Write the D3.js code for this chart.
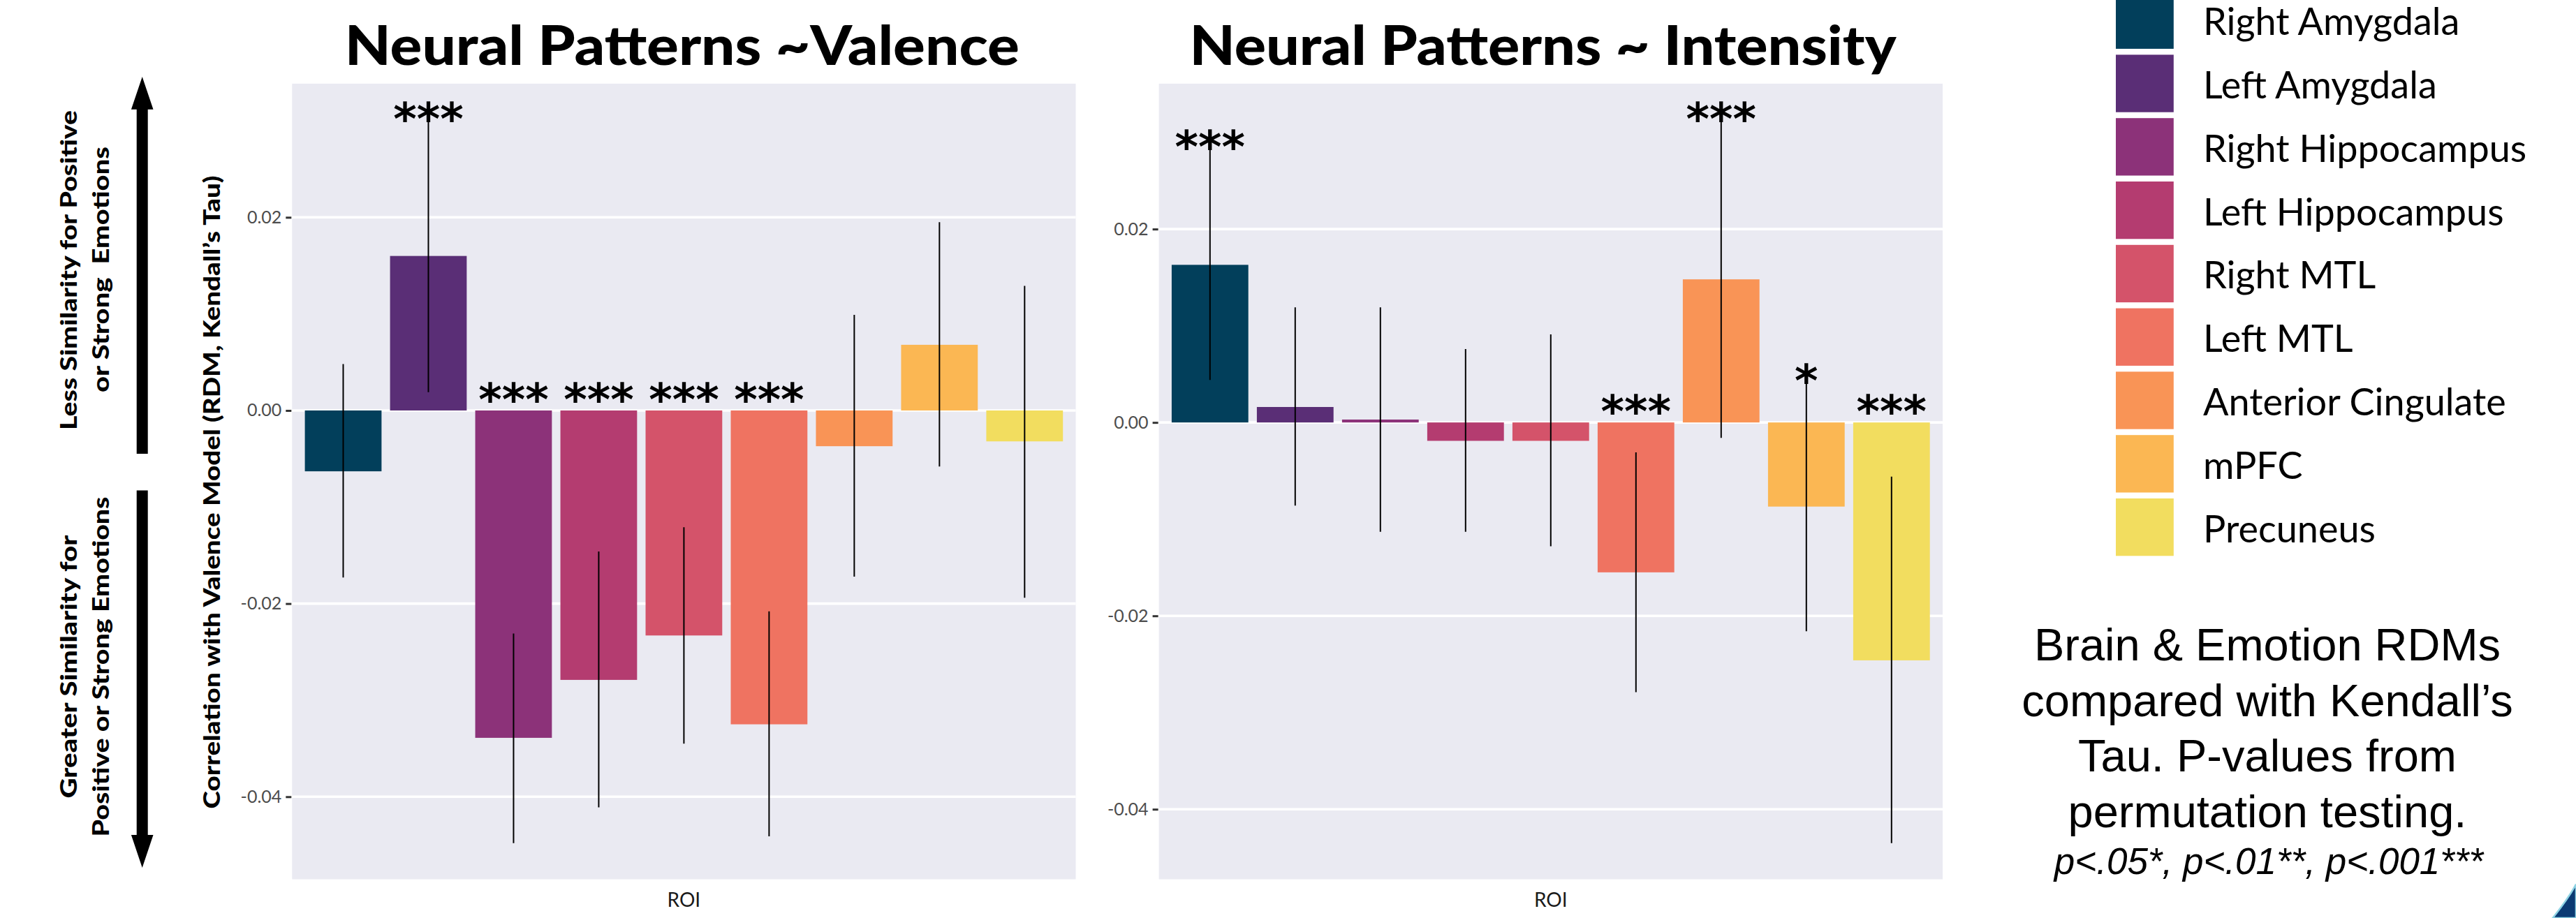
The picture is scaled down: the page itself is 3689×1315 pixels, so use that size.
<!DOCTYPE html>
<html>
<head>
<meta charset="utf-8">
<script src="https://cdn.jsdelivr.net/npm/d3@7"></script>
<style>
  html, body { margin: 0; padding: 0; background: #ffffff; }
  svg { display: block; }
</style>
</head>
<body>
<script>
// ---------------- DATA ----------------
const rois = ["Right Amygdala", "Left Amygdala", "Right Hippocampus", "Left Hippocampus",
              "Right MTL", "Left MTL", "Anterior Cingulate", "mPFC", "Precuneus"];
const roiColors = ["#023F5B", "#5A2E76", "#8C3279", "#B43C70", "#D4536A",
                   "#EF7361", "#F99456", "#FBB753", "#F2DD5F"];

const valenceTau   = [-0.0063, 0.0160, -0.0339, -0.0279, -0.0233, -0.0325, -0.0037, 0.0068, -0.0032];
const valenceLower = [-0.0173, 0.0019, -0.0448, -0.0411, -0.0345, -0.0441, -0.0172, -0.0058, -0.0194];
const valenceUpper = [ 0.0048, 0.0301, -0.0231, -0.0146, -0.0121, -0.0208,  0.0099,  0.0195,  0.0129];
const valenceSig   = ["", "***", "***", "***", "***", "***", "", "", ""];

const intensityTau   = [0.0163, 0.0016, 0.0003, -0.0019, -0.0019, -0.0155, 0.0148, -0.0087, -0.0246];
const intensityLower = [0.0044, -0.0086, -0.0113, -0.0113, -0.0128, -0.0279, -0.0016, -0.0216, -0.0435];
const intensityUpper = [0.0284, 0.0119, 0.0119, 0.0076, 0.0091, -0.0031, 0.0313, 0.0042, -0.0056];
const intensitySig   = ["***", "", "", "", "", "***", "***", "*", "***"];

const yTicks = [-0.04, -0.02, 0.00, 0.02];
const yTickLabels = ["-0.04", "-0.02", "0.00", "0.02"];

const panelTitles = ["Neural Patterns ~Valence", "Neural Patterns ~ Intensity"];
const xAxisTitle = "ROI";
const yAxisTitle = "Correlation with Valence Model (RDM, Kendall\u2019s Tau)";
const upperNote = ["Less Similarity for Positive", "or Strong  Emotions"];
const lowerNote = ["Greater Similarity for", "Positive or Strong Emotions"];
const noteLines = ["Brain & Emotion RDMs", "compared with Kendall\u2019s", "Tau. P-values from", "permutation testing."];
const sigNote = "p<.05*, p<.01**, p<.001***";

// ---------------- LAYOUT ----------------
const W = 3689, H = 1315;
const svg = d3.select("body").append("svg").attr("width", W).attr("height", H)
  .style("background", "#ffffff");

const PANEL_TOP = 119.8, PANEL_BOTTOM = 1259.5;
const GILL = "Lato, 'Noto Sans', sans-serif";

function drawPanel(opts) {
  const { left, right, tau, lower, upper, sig, title, titleX, titleW } = opts;
  const g = svg.append("g");
  const lo = d3.min([...tau, ...lower, ...upper, 0]);
  const hi = d3.max([...tau, ...lower, ...upper, 0]);
  const pad = (hi - lo) * 0.05;
  const y = d3.scaleLinear().domain([lo - pad, hi + pad]).range([PANEL_BOTTOM, PANEL_TOP]);
  const x = d3.scaleBand().domain(rois).range([left, right]).paddingInner(0.1).paddingOuter(0.15);

  // panel background
  g.append("rect").attr("x", left).attr("y", PANEL_TOP)
    .attr("width", right - left).attr("height", PANEL_BOTTOM - PANEL_TOP)
    .attr("fill", "#EAEAF2");

  // gridlines
  g.selectAll("line.grid").data(yTicks).join("line")
    .attr("x1", left).attr("x2", right)
    .attr("y1", d => y(d)).attr("y2", d => y(d))
    .attr("stroke", "#ffffff").attr("stroke-width", 3.6);

  // bars
  g.selectAll("rect.bar").data(rois).join("rect")
    .attr("x", d => x(d)).attr("width", x.bandwidth())
    .attr("y", (d, i) => y(Math.max(0, tau[i])))
    .attr("height", (d, i) => Math.abs(y(tau[i]) - y(0)))
    .attr("fill", (d, i) => roiColors[i]);

  // error bars
  g.selectAll("line.err").data(rois).join("line")
    .attr("x1", d => x(d) + x.bandwidth() / 2).attr("x2", d => x(d) + x.bandwidth() / 2)
    .attr("y1", (d, i) => y(lower[i])).attr("y2", (d, i) => y(upper[i]))
    .attr("stroke", "#000").attr("stroke-width", 2);

  // significance stars
  g.selectAll("text.sig").data(rois).join("text")
    .attr("x", d => x(d) + x.bandwidth() / 2)
    .attr("y", (d, i) => y(Math.max(upper[i], 0.001)) + 21)
    .attr("text-anchor", "middle")
    .attr("font-family", "'DejaVu Sans', sans-serif")
    .attr("font-weight", "bold")
    .attr("font-size", 64)
    .attr("fill", "#000")
    .text((d, i) => sig[i]);

  // y axis
  const axis = d3.axisLeft(y).tickValues(yTicks).tickFormat((d, i) => yTickLabels[i])
    .tickSize(8).tickPadding(6);
  const ag = g.append("g").attr("transform", `translate(${left - 1},0)`).call(axis);
  ag.select(".domain").remove();
  ag.selectAll(".tick line").attr("stroke", "#333333").attr("stroke-width", 3);
  ag.selectAll(".tick text").attr("font-family", GILL).attr("font-size", 25)
    .attr("fill", "#4D4D4D");

  // x axis title
  g.append("text").attr("x", (left + right) / 2).attr("y", 1298.5)
    .attr("text-anchor", "middle").attr("font-family", GILL).attr("font-size", 28)
    .attr("fill", "#1A1A1A").text(xAxisTitle);

  // panel title
  g.append("text").attr("x", titleX).attr("y", 93)
    .attr("font-family", GILL).attr("font-weight", 900).attr("font-size", 78)
    .attr("textLength", titleW).attr("lengthAdjust", "spacingAndGlyphs")
    .attr("fill", "#000").text(title);
  return y;
}

drawPanel({ left: 418.3, right: 1540.5, tau: valenceTau, lower: valenceLower, upper: valenceUpper,
  sig: valenceSig, title: panelTitles[0], titleX: 493.8, titleW: 966 });
drawPanel({ left: 1659.6, right: 2782, tau: intensityTau, lower: intensityLower, upper: intensityUpper,
  sig: intensitySig, title: panelTitles[1], titleX: 1703.6, titleW: 1012 });

// y axis title (left panel)
svg.append("text").attr("transform", "translate(315,705) rotate(-90)")
  .attr("text-anchor", "middle").attr("font-family", GILL).attr("font-weight", 900)
  .attr("font-size", 32).attr("textLength", 907).attr("lengthAdjust", "spacingAndGlyphs")
  .attr("fill", "#000").text(yAxisTitle);

// side notes
function rotText(txt, bx, cy, len) {
  svg.append("text").attr("transform", `translate(${bx},${cy}) rotate(-90)`)
    .attr("text-anchor", "middle").attr("font-family", GILL).attr("font-weight", 900)
    .attr("font-size", 32).attr("textLength", len).attr("lengthAdjust", "spacingAndGlyphs")
    .attr("fill", "#000").style("white-space", "pre").text(txt);
}
rotText(upperNote[0], 110, 387, 458);
rotText(upperNote[1], 156, 386, 352);
rotText(lowerNote[0], 110, 955, 377);
rotText(lowerNote[1], 156, 955, 487);

// arrows
const ax = 203.7;
svg.append("path").attr("fill", "#000")
  .attr("d", `M${ax},110 L${ax + 15.8},156.7 L${ax + 8},156.7 L${ax + 8},650 L${ax - 8},650 L${ax - 8},156.7 L${ax - 15.8},156.7 Z`);
svg.append("path").attr("fill", "#000")
  .attr("d", `M${ax},1243 L${ax + 15.8},1196 L${ax + 8},1196 L${ax + 8},702.5 L${ax - 8},702.5 L${ax - 8},1196 L${ax - 15.8},1196 Z`);

// legend
const lg = svg.append("g");
const legTop = -12.4, legStep = 90.8, legH = 82.3;
lg.selectAll("rect").data(rois).join("rect")
  .attr("x", 3030).attr("width", 82.8)
  .attr("y", (d, i) => legTop + i * legStep).attr("height", legH)
  .attr("fill", (d, i) => roiColors[i]);
lg.selectAll("text").data(rois).join("text")
  .attr("x", 3155)
  .attr("y", (d, i) => legTop + i * legStep + legH / 2 + 21.5)
  .attr("font-family", GILL).attr("font-size", 54).attr("fill", "#000")
  .text(d => d);

// note block
const nb = svg.append("g");
nb.selectAll("text.line").data(noteLines).join("text")
  .attr("x", 3247).attr("y", (d, i) => 946 + i * 79.6)
  .attr("text-anchor", "middle").attr("font-family", "'Liberation Sans', Arial, sans-serif")
  .attr("font-size", 65).attr("fill", "#000").text(d => d);
nb.append("text").attr("x", 3249).attr("y", 1252)
  .attr("text-anchor", "middle").attr("font-family", "'Liberation Sans', Arial, sans-serif")
  .attr("font-style", "italic").attr("font-size", 53).attr("fill", "#000").text(sigNote);

// corner decoration
svg.append("path")
  .attr("d", "M3655.7,1315 Q3679,1285.7 3689,1266.7 L3689,1315 Z")
  .attr("fill", "#0B3A73").attr("stroke", "#8FD3E4").attr("stroke-width", 2.5);
</script>
</body>
</html>
